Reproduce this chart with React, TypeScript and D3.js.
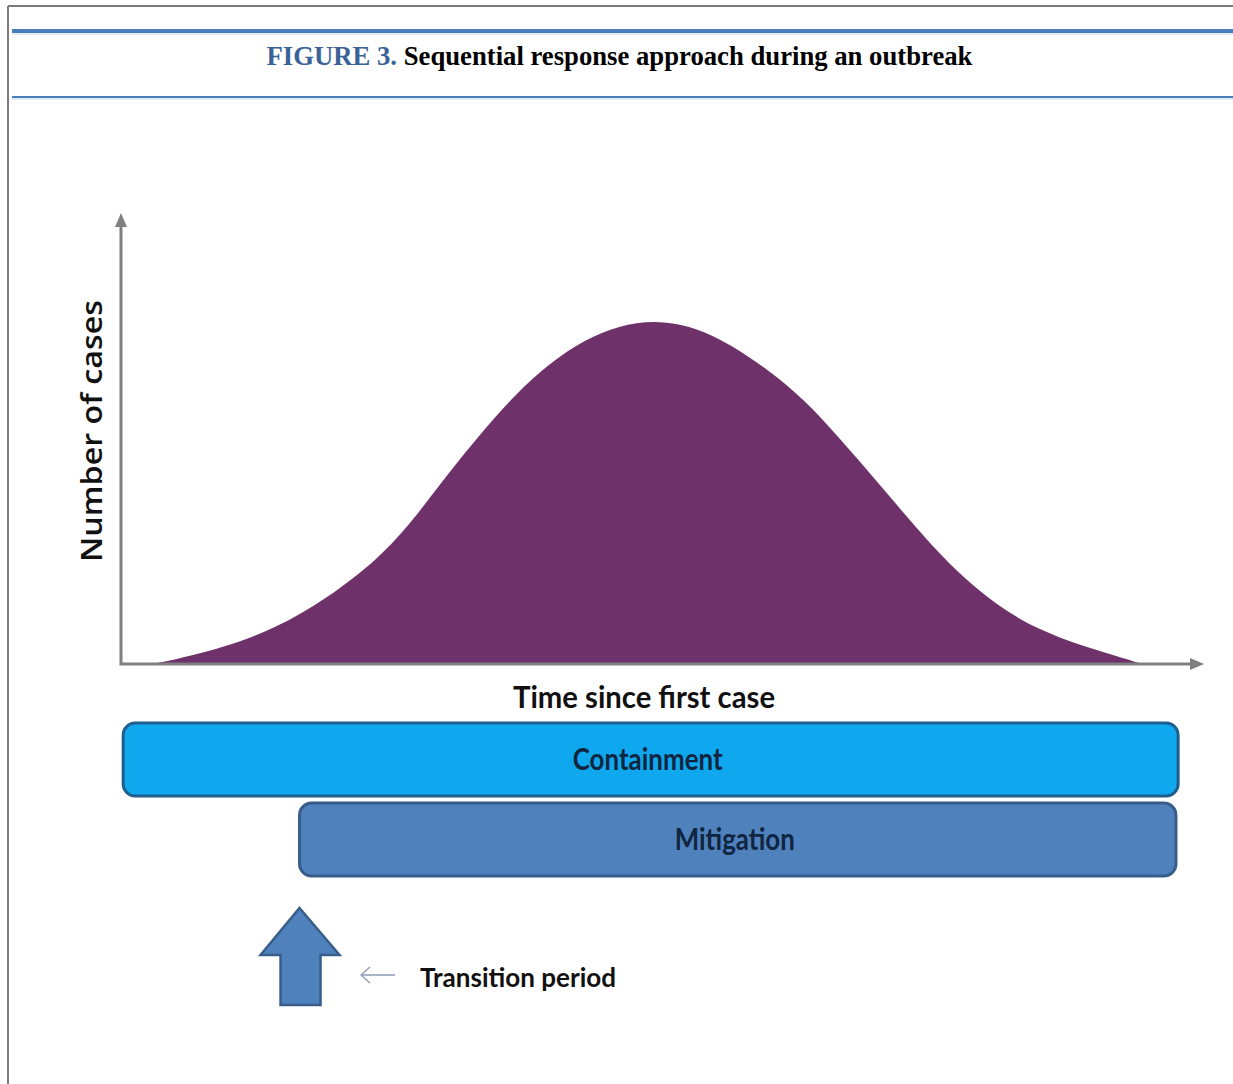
import * as d3 from "d3";

// Epidemic curve (time in % of axis, cases in % of axis height)
const curveTime = [
  2.7, 4.7, 9.4, 14.2, 19.0, 23.8, 27.0, 30.1, 33.4, 36.5, 39.6, 42.9, 46.0,
  49.4, 52.6, 55.2, 58.0, 61.5, 64.8, 68.1, 71.5, 74.9, 78.3, 81.6, 84.9, 88.4,
  91.7, 94.4,
];
const curveCases = [
  0, 0.8, 3.6, 7.8, 14.5, 23.4, 32.0, 42.0, 51.8, 60.2, 67.0, 72.3, 75.4, 76.6,
  75.3, 72.6, 68.6, 62.4, 54.8, 45.6, 36.0, 26.4, 18.2, 12.0, 7.6, 4.4, 2.0, 0,
];

// Response phases (start / end on the time axis)
const phaseNames = ["Containment", "Mitigation"];
const phaseStart = [0.2, 16.5];
const phaseEnd = [97.7, 97.5];
const phaseFill = ["#0fa7ee", "#4f81bd"];
const phaseStroke = ["#1f5f8e", "#385d8a"];

const transitionTime = 16.5;
const transitionLabel = "Transition period";

const titlePrefix = "FIGURE 3.";
const titleText = " Sequential response approach during an outbreak";
const xLabel = "Time since first case";
const yLabel = "Number of cases";

const width = 1233;
const height = 1084;

export default function App() {
  const origin = { x: 121, y: 664 };
  const xScale = d3.scaleLinear().domain([0, 100]).range([origin.x, 1203]);
  const yScale = d3.scaleLinear().domain([0, 100]).range([origin.y, 215]);

  const points = curveTime.map((t, i) => ({ t, c: curveCases[i] }));
  const area = d3
    .area<{ t: number; c: number }>()
    .x((d) => xScale(d.t))
    .y0(yScale(0))
    .y1((d) => yScale(d.c))
    .curve(d3.curveBasis);

  const axisColor = "#808080";
  const xEnd = xScale(100);
  const yTop = yScale(100);

  const bandTop = [723, 803];
  const bandH = [73, 73];

  // transition arrow geometry
  const ax = xScale(transitionTime);
  const arrowPath = [
    [ax, 908],
    [ax + 40, 955],
    [ax + 21, 955],
    [ax + 21, 1005],
    [ax - 19, 1005],
    [ax - 19, 955],
    [ax - 39, 955],
  ];

  const calibri = "Lato, 'Open Sans', sans-serif";

  return (
    <div style={{ position: "absolute", left: 0, top: 0 }}>
      <svg width={width} height={height} style={{ display: "block", background: "#fff" }}>
        {/* frame */}
        <line x1={8} y1={6} x2={width} y2={6} stroke="#7a7a7a" strokeWidth={2} />
        <line x1={8} y1={6} x2={8} y2={height} stroke="#7a7a7a" strokeWidth={2} />

        {/* title band */}
        <line x1={12} y1={31} x2={width} y2={31} stroke="#4a7ebb" strokeWidth={4} />
        <line x1={12} y1={34} x2={width} y2={34} stroke="#c9d8ec" strokeWidth={1} />
        <line x1={12} y1={97} x2={width} y2={97} stroke="#4a7ebb" strokeWidth={2} />
        <line x1={12} y1={99} x2={width} y2={99} stroke="#c9d8ec" strokeWidth={1} />
        <text
          x={619.5}
          y={65}
          textAnchor="middle"
          fontFamily="'Liberation Serif', 'Times New Roman', serif"
          fontWeight="bold"
          fontSize={26.7}
        >
          <tspan fill="#3a6297">{titlePrefix}</tspan>
          <tspan fill="#000">{titleText}</tspan>
        </text>

        {/* curve */}
        <path d={area(points) ?? ""} fill="#6f3169" />

        {/* axes */}
        <polyline
          points={`${origin.x},${yTop + 10} ${origin.x},${origin.y} ${xEnd - 10},${origin.y}`}
          fill="none"
          stroke={axisColor}
          strokeWidth={3}
        />
        <path
          d={`M${origin.x},${yTop - 2} L${origin.x + 6},${yTop + 12} L${origin.x - 6},${yTop + 12} Z`}
          fill={axisColor}
        />
        <path
          d={`M${xEnd + 1},${origin.y} L${xEnd - 13},${origin.y - 6} L${xEnd - 13},${origin.y + 6} Z`}
          fill={axisColor}
        />

        {/* axis labels */}
        <text
          x={644}
          y={708}
          textAnchor="middle"
          fontFamily={calibri}
          fontWeight={700}
          fontSize={31}
          textLength={262}
          lengthAdjust="spacingAndGlyphs"
          fill="#111"
        >
          {xLabel}
        </text>
        <text
          transform={`translate(102, 431) rotate(-90)`}
          textAnchor="middle"
          fontFamily="'Open Sans', sans-serif"
          fontWeight={600}
          fontSize={28}
          textLength={262}
          lengthAdjust="spacingAndGlyphs"
          fill="#111"
        >
          {yLabel}
        </text>

        {/* phases */}
        {phaseNames.map((name, i) => {
          const x0 = xScale(phaseStart[i]);
          const x1 = xScale(phaseEnd[i]);
          return (
            <g key={name}>
              <rect
                x={x0}
                y={bandTop[i]}
                width={x1 - x0}
                height={bandH[i]}
                rx={12}
                ry={12}
                fill={phaseFill[i]}
                stroke={phaseStroke[i]}
                strokeWidth={3}
              />
              <text
                x={(x0 + x1) / 2 - 3}
                y={bandTop[i] + 47}
                textAnchor="middle"
                fontFamily={calibri}
                fontWeight={700}
                fontSize={30}
                textLength={i === 0 ? 150 : 120}
                lengthAdjust="spacingAndGlyphs"
                fill="#0f2540"
              >
                {name}
              </text>
            </g>
          );
        })}

        {/* transition marker */}
        <polygon
          points={arrowPath.map((p) => p.join(",")).join(" ")}
          fill="#4f81bd"
          stroke="#385d8a"
          strokeWidth={2.5}
          strokeLinejoin="miter"
        />
        <g stroke="#8a9bb3" strokeWidth={1.3} fill="none">
          <line x1={361} y1={975} x2={395} y2={975} />
          <polyline points="370,967 361,975 370,983" />
        </g>
        <text
          x={420}
          y={987}
          fontFamily={calibri}
          fontWeight={700}
          fontSize={27}
          textLength={196}
          lengthAdjust="spacingAndGlyphs"
          fill="#111"
        >
          {transitionLabel}
        </text>
      </svg>
    </div>
  );
}
